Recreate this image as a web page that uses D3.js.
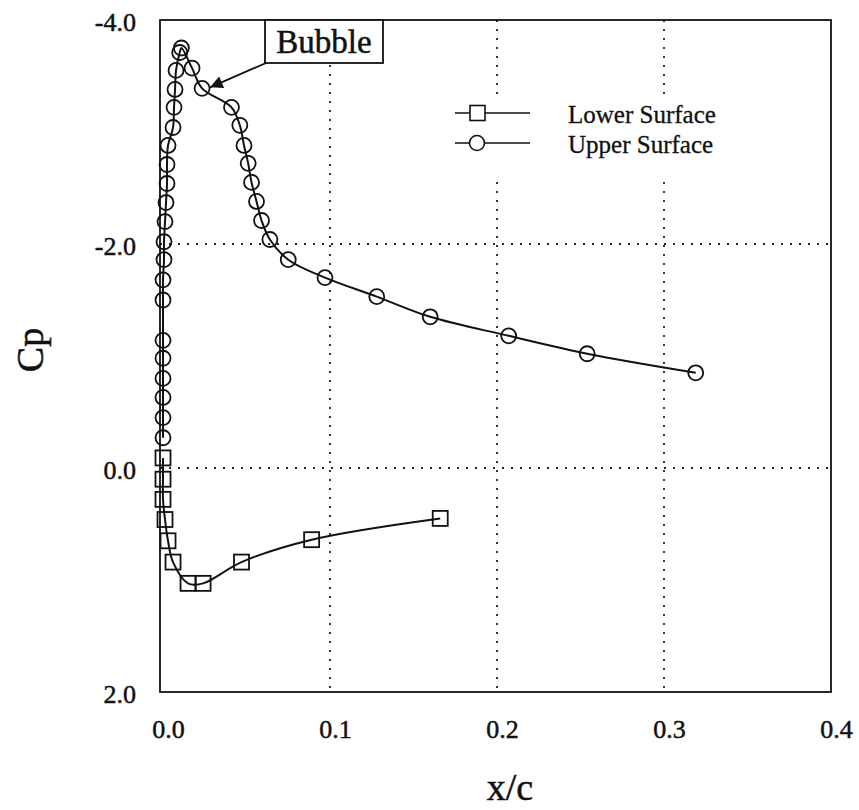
<!DOCTYPE html>
<html>
<head>
<meta charset="utf-8">
<script src="https://cdn.jsdelivr.net/npm/d3@7"></script>
<style>
body { margin: 0; background: #fff; }
text { font-family: "Liberation Serif", "Times New Roman", serif; fill: #111; stroke: #111; stroke-width: 0.5px; }
</style>
</head>
<body>
<div id="chart"></div>
<script>
// upper surface (circles)
var upperX = [0.000, 0.000, 0.000, 0.000, 0.000, 0.000, 0.000, 0.000, 0.0006, 0.0006,
	0.0012, 0.0018, 0.0024, 0.0024, 0.003, 0.006, 0.0066, 0.0072, 0.0078, 0.010, 0.011,
	0.0174, 0.0234, 0.041, 0.046, 0.0485, 0.051, 0.053, 0.056, 0.059, 0.064,
	0.075, 0.097, 0.128, 0.160, 0.207, 0.254, 0.319];
var upperCp = [-0.27, -0.45, -0.63, -0.80, -0.98, -1.14, -1.50, -1.68, -1.86, -2.02,
	-2.20, -2.37, -2.54, -2.71, -2.88, -3.04, -3.22, -3.38, -3.55, -3.71, -3.75,
	-3.57, -3.39, -3.22, -3.06, -2.88, -2.72, -2.55, -2.38, -2.21, -2.04,
	-1.86, -1.70, -1.53, -1.35, -1.18, -1.02, -0.85];

// lower surface (squares)
var lowerX = [0.000, 0.000, 0.000, 0.0012, 0.003, 0.006, 0.015, 0.024, 0.047, 0.089, 0.166];
var lowerCp = [-0.09, 0.10, 0.28, 0.46, 0.65, 0.84, 1.03, 1.03, 0.84, 0.64, 0.45];

var xTicks = [0.0, 0.1, 0.2, 0.3, 0.4];
var yTicks = [-4.0, -2.0, 0.0, 2.0];
var xGrid = [0.1, 0.2, 0.3];
var yGrid = [-2.0, 0.0];
var seriesNames = ["Lower Surface", "Upper Surface"];

var upper = upperX.map(function(d, i) { return [d, upperCp[i]]; });
var lower = lowerX.map(function(d, i) { return [d, lowerCp[i]]; });

var svg = d3.select("#chart").append("svg")
	.attr("width", 859)
	.attr("height", 810);

var x = d3.scaleLinear().domain([-0.0018, 0.4]).range([160, 831]);
var y = d3.scaleLinear().domain([-4, 2]).range([20, 692]);

// dotted grid
svg.selectAll(".vgrid")
	.data(xGrid)
	.enter().append("line")
	.attr("x1", function(d) { return x(d); })
	.attr("x2", function(d) { return x(d); })
	.attr("y1", y(-4))
	.attr("y2", y(2))
	.style("stroke", "#222")
	.style("stroke-width", 1.8)
	.style("stroke-dasharray", "2,7");

svg.selectAll(".hgrid")
	.data(yGrid)
	.enter().append("line")
	.attr("x1", x.range()[0])
	.attr("x2", x.range()[1])
	.attr("y1", function(d) { return y(d); })
	.attr("y2", function(d) { return y(d); })
	.style("stroke", "#222")
	.style("stroke-width", 1.8)
	.style("stroke-dasharray", "2,7");

// frame
svg.append("rect")
	.attr("x", x.range()[0])
	.attr("y", y.range()[0])
	.attr("width", x.range()[1] - x.range()[0])
	.attr("height", y.range()[1] - y.range()[0])
	.style("fill", "none")
	.style("stroke", "#111")
	.style("stroke-width", 1.8);

// axes (labels only)
var fmt = function(d) { return d.toFixed(1); };

var xAxis = svg.append("g")
	.attr("transform", "translate(5," + y.range()[1] + ")")
	.call(d3.axisBottom(x).tickValues(xTicks).tickFormat(fmt).tickSize(0).tickPadding(28));
xAxis.select(".domain").remove();
xAxis.selectAll("text")
	.style("font-size", "26px")
	.style("font-family", "Liberation Serif, serif")
	.style("fill", "#111");

var yAxis = svg.append("g")
	.attr("transform", "translate(" + x.range()[0] + ",2)")
	.call(d3.axisLeft(y).tickValues(yTicks).tickFormat(fmt).tickSize(0).tickPadding(24));
yAxis.select(".domain").remove();
yAxis.selectAll("text")
	.style("font-size", "26px")
	.style("font-family", "Liberation Serif, serif")
	.style("fill", "#111");

// axis titles
svg.append("text")
	.attr("x", 510)
	.attr("y", 800)
	.attr("text-anchor", "middle")
	.style("font-size", "38px")
	.text("x/c");

svg.append("text")
	.attr("transform", "translate(43,350) rotate(-90)")
	.attr("text-anchor", "middle")
	.style("font-size", "38px")
	.text("Cp");

// curves
var line = d3.line()
	.x(function(d) { return x(d[0]); })
	.y(function(d) { return y(d[1]); })
	.curve(d3.curveCatmullRom.alpha(0.5));

svg.append("path")
	.datum(upper)
	.attr("d", line)
	.style("fill", "none")
	.style("stroke", "#111")
	.style("stroke-width", 2);

svg.append("path")
	.datum(lower)
	.attr("d", line)
	.style("fill", "none")
	.style("stroke", "#111")
	.style("stroke-width", 2);

// markers
svg.selectAll(".sq")
	.data(lower)
	.enter().append("rect")
	.attr("x", function(d) { return x(d[0]) - 7.5; })
	.attr("y", function(d) { return y(d[1]) - 7.5; })
	.attr("width", 15)
	.attr("height", 15)
	.style("fill", "none")
	.style("stroke", "#111")
	.style("stroke-width", 1.8);

svg.selectAll(".ci")
	.data(upper)
	.enter().append("circle")
	.attr("cx", function(d) { return x(d[0]); })
	.attr("cy", function(d) { return y(d[1]); })
	.attr("r", 7.5)
	.style("fill", "none")
	.style("stroke", "#111")
	.style("stroke-width", 1.8);

// legend
var legend = svg.append("g");
legend.append("rect")
	.attr("x", 450).attr("y", 96)
	.attr("width", 275).attr("height", 82)
	.style("fill", "#fff");

var rows = legend.selectAll(".row")
	.data(seriesNames)
	.enter().append("g")
	.attr("transform", function(d, i) { return "translate(0," + (113 + i * 30) + ")"; });

rows.append("line")
	.attr("x1", 455).attr("x2", 530)
	.attr("y1", 0).attr("y2", 0)
	.style("stroke", "#111")
	.style("stroke-width", 1.6);

rows.each(function(d, i) {
	var g = d3.select(this);
	if (i == 0) {
		g.append("rect").attr("x", 470).attr("y", -7.5).attr("width", 15).attr("height", 15)
			.style("fill", "#fff").style("stroke", "#111").style("stroke-width", 1.6);
	} else {
		g.append("circle").attr("cx", 477).attr("cy", 0).attr("r", 7.5)
			.style("fill", "#fff").style("stroke", "#111").style("stroke-width", 1.6);
	}
});

rows.append("text")
	.attr("x", 568)
	.attr("y", 10)
	.style("font-size", "25px")
	.style("stroke-width", "0.3px")
	.text(function(d) { return d; });

// Bubble annotation
svg.append("rect")
	.attr("x", 265).attr("y", 20)
	.attr("width", 118).attr("height", 43)
	.style("fill", "#fff")
	.style("stroke", "#111")
	.style("stroke-width", 1.8);

svg.append("text")
	.attr("x", 324).attr("y", 53)
	.attr("text-anchor", "middle")
	.style("font-size", "33px")
	.text("Bubble");

svg.append("defs").append("marker")
	.attr("id", "arrow")
	.attr("viewBox", "0 0 10 10")
	.attr("refX", 10).attr("refY", 5)
	.attr("markerWidth", 11).attr("markerHeight", 7)
	.attr("markerUnits", "strokeWidth")
	.attr("orient", "auto")
	.append("path")
	.attr("d", "M0,0 L10,5 L0,10 z")
	.style("fill", "#111");

svg.append("line")
	.attr("x1", 266).attr("y1", 63)
	.attr("x2", x(0.0234) + 8).attr("y2", y(-3.39) - 1)
	.style("stroke", "#111")
	.style("stroke-width", 1.8)
	.attr("marker-end", "url(#arrow)");
</script>
</body>
</html>
